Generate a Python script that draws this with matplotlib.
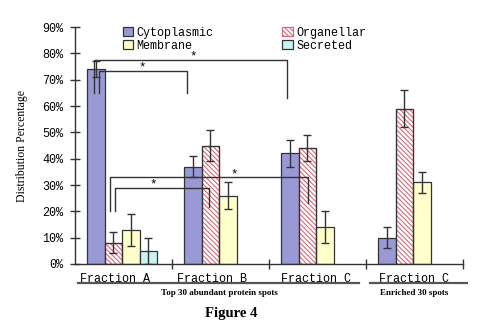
import matplotlib
matplotlib.use("Agg")
import matplotlib.pyplot as plt
import numpy as np

categories = ["Fraction A", "Fraction B", "Fraction C", "Fraction C"]
series = ["Cytoplasmic", "Organellar", "Membrane", "Secreted"]
values = {
    "Cytoplasmic": [74, 37, 42, 10],
    "Organellar": [8, 45, 44, 59],
    "Membrane": [13, 26, 14, 31],
    "Secreted": [5, np.nan, np.nan, np.nan],
}
errors = {
    "Cytoplasmic": [3, 4, 5, 4],
    "Organellar": [4, 6, 5, 7],
    "Membrane": [6, 5, 6, 4],
    "Secreted": [5, np.nan, np.nan, np.nan],
}
yticks = [0, 10, 20, 30, 40, 50, 60, 70, 80, 90]
group_labels = ["Top 30 abundant protein spots", "Enriched 30 spots"]

mono = "Liberation Mono"
plt.rcParams['hatch.linewidth'] = 0.8

fig = plt.figure(figsize=(4.84, 3.34), dpi=100)
ax = fig.add_axes([0.155, 0.2096, 0.802, 0.7094])

styles = {
    "Cytoplasmic": dict(facecolor="#9999d6", hatch=None),
    "Organellar": dict(facecolor="white", hatch="\\\\\\\\\\\\\\"),
    "Membrane": dict(facecolor="#ffffcc", hatch=None),
    "Secreted": dict(facecolor="#ccf2f2", hatch=None),
}
bw = 0.18
x0 = np.arange(len(categories))
handles = {}
for j, s in enumerate(series):
    xs = x0 + 0.215 + j * bw
    st = styles[s]
    bars = ax.bar(xs, values[s], width=bw, facecolor=st["facecolor"],
                  edgecolor="#333333", linewidth=0.9, hatch=st["hatch"], label=s, zorder=2)
    handles[s] = bars
    if s == "Organellar":
        for b in bars:
            b.set_edgecolor("#d46a7a")
        ax.bar(xs, values[s], width=bw, facecolor="none", edgecolor="#333333",
               linewidth=0.9, zorder=2.1)
    ax.errorbar(xs, values[s], yerr=errors[s], fmt="none", ecolor="#333333",
                elinewidth=1.0, capsize=3, capthick=1.0, zorder=3)

# significance brackets
lc = "#333333"
def bracket(xl, xr, y, yl, yr, sx):
    ax.plot([xl, xl, xr, xr], [yl, y, y, yr], color=lc, lw=1.0, zorder=4)
    ax.text(sx, y + 1.2, "*", ha="center", va="center", fontsize=9, family=mono)

bracket(0.196, 2.186, 77.5, 65, 63, 1.22)
bracket(0.247, 1.155, 73.3, 65, 65, 0.69)
bracket(0.361, 2.402, 33, 20, 23, 1.64)
bracket(0.412, 1.381, 29, 20, 21.6, 0.81)

ax.set_xlim(0, 4)
ax.set_ylim(0, 90)
ax.set_yticks(yticks)
ax.set_yticklabels([f"{t}%" for t in yticks], family=mono, fontsize=8.5)
ax.set_xticks([1, 2, 3, 4])
ax.set_xticklabels([])
ax.tick_params(axis="both", direction="inout", length=7, width=1.0, color="#333333")
ax.tick_params(axis="y", pad=5)
for sp in ["top", "right"]:
    ax.spines[sp].set_visible(False)
for sp in ["left", "bottom"]:
    ax.spines[sp].set_color("#333333")
    ax.spines[sp].set_linewidth(1.0)

ax.set_ylabel("Distribution Percentage", family="Liberation Serif", fontsize=8.5)
ax.yaxis.set_label_coords(-0.122, 0.5)

label_x = [0.41, 1.41, 2.48, 3.49]
for lx, c in zip(label_x, categories):
    ax.text(lx, -3.5, c, ha="center", va="top", family=mono, fontsize=8.5)

# group underlines and labels
fig.add_artist(plt.Line2D([78/484, 359/484], [1-283/334]*2, color="#555555", lw=1.6))
fig.add_artist(plt.Line2D([370/484, 467/484], [1-283/334]*2, color="#555555", lw=1.6))
fig.text(219/484, 1-293/334, group_labels[0], ha="center", va="center",
         family="Liberation Serif", fontweight="bold", fontsize=6.5)
fig.text(414/484, 1-293/334, group_labels[1], ha="center", va="center",
         family="Liberation Serif", fontweight="bold", fontsize=6.5)
fig.text(231/484, 1-313/334, "Figure 4", ha="center", va="center",
         family="Liberation Serif", fontweight="bold", fontsize=10.5)

order = ["Cytoplasmic", "Membrane", "Organellar", "Secreted"]
leg = ax.legend([handles[s] for s in order], order, ncol=2, loc="upper left",
                bbox_to_anchor=(0.095, 1.045), frameon=False,
                prop=dict(family=mono, size=8.5), handlelength=0.9, handleheight=0.8,
                handletextpad=0.3, columnspacing=5.8, labelspacing=0.05)

fig.savefig("out.png", dpi=100)
